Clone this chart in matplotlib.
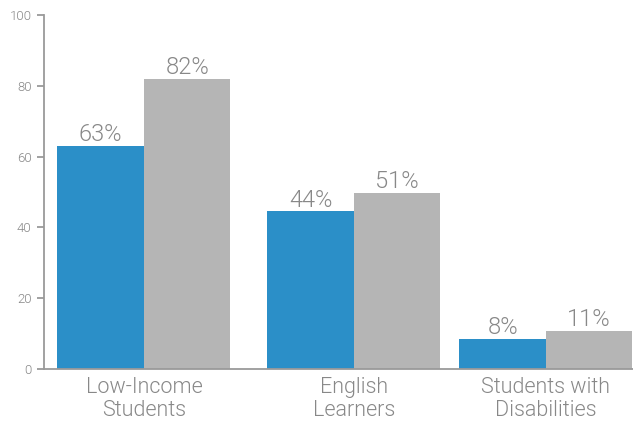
import matplotlib
matplotlib.use('Agg')
import matplotlib.pyplot as plt

categories = ['Low-Income\nStudents', 'English\nLearners', 'Students with\nDisabilities']
blue_values = [63, 44, 8]
grey_values = [82, 51, 11]
# drawn bar heights (label text differs slightly)
blue_heights = [63, 44.5, 8.4]
grey_heights = [82, 49.7, 10.7]
y_ticks = [0, 20, 40, 60, 80, 100]

BLUE = '#2b8fc8'
GREY = '#b5b5b5'
TEXT = '#888888'
AXIS = '#9a9a9a'

plt.rcParams['font.family'] = ['Roboto', 'DejaVu Sans']
plt.rcParams['font.weight'] = 300

fig = plt.figure(figsize=(6.33, 4.22), dpi=100)
ax = fig.add_axes([44 / 633, 1 - 369 / 422, 1 - 44 / 633, (369 - 15) / 422])

# group centres, in bar widths
centers = [1.156, 3.584, 5.803]
w = 1.0

for i, c in enumerate(centers):
    ax.bar(c - w / 2, blue_heights[i], width=w, color=BLUE, linewidth=0)
    ax.bar(c + w / 2, grey_heights[i], width=w, color=GREY, linewidth=0)
    ax.annotate(f'{blue_values[i]}%', (c - w / 2, blue_heights[i]), xytext=(0, 3.5),
                textcoords='offset points', ha='center', va='baseline',
                fontsize=17, color=TEXT)
    ax.annotate(f'{grey_values[i]}%', (c + w / 2, grey_heights[i]), xytext=(0, 3.5),
                textcoords='offset points', ha='center', va='baseline',
                fontsize=17, color=TEXT)

ax.set_xlim(0, 6.81)
ax.set_ylim(0, 100)
ax.set_yticks(y_ticks)
ax.set_yticklabels([str(t) for t in y_ticks])
ax.set_xticks(centers)
ax.set_xticklabels(categories, fontsize=15.5, color=TEXT, linespacing=1.15)

ax.tick_params(axis='y', length=5, width=1.3, color=AXIS, labelcolor=TEXT,
               labelsize=9.5, pad=4)
ax.tick_params(axis='x', length=0, pad=5.5)

for s in ['top', 'right']:
    ax.spines[s].set_visible(False)
for s in ['left', 'bottom']:
    ax.spines[s].set_color(AXIS)
    ax.spines[s].set_linewidth(1.3)

fig.savefig('out.png', dpi=100)
